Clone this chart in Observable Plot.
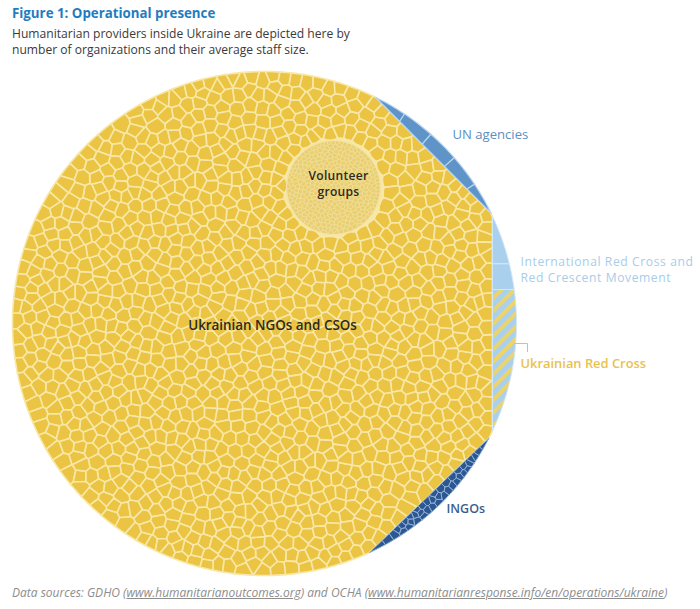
<!DOCTYPE html>
<html><head><meta charset="utf-8">
<script src="https://cdn.jsdelivr.net/npm/d3@7"></script>
<script src="https://cdn.jsdelivr.net/npm/@observablehq/plot@0.6"></script>
<style>
body{margin:0;background:#fff;font-family:"Open Sans",sans-serif;width:700px;height:609px;overflow:hidden}
#head{height:62px;padding-left:12px;box-sizing:border-box}
#head .t{font-weight:700;color:#1f7dbf;font-size:13.3px;line-height:18px;padding-top:4px}
#head .s{color:#3a3a3a;font-size:12.1px;line-height:15.5px;margin-top:4px}
#chart{height:520px}
#cap{font-style:italic;color:#8d8d8d;font-size:12px;line-height:14px;padding-left:12px;margin-top:4px;white-space:nowrap}
#cap u{text-decoration:underline}
</style></head>
<body>
<div id="head"><div class="t">Figure 1: Operational presence</div>
<div class="s">Humanitarian providers inside Ukraine are depicted here by<br>number of organizations and their average staff size.</div></div>
<div id="chart"></div>
<div id="cap">Data sources: GDHO (<u>www.humanitarianoutcomes.org</u>) and OCHA (<u>www.humanitarianresponse.info/en/operations/ukraine</u>)</div>
<script>
// ---- data ----
const categories = ["Ukrainian NGOs and CSOs","Volunteer groups","UN agencies","International Red Cross and Red Crescent Movement","Ukrainian Red Cross","INGOs"];
const organizations = [1250, 420, 5, 2, 1, 40];
const labelLines = [["Ukrainian NGOs and CSOs"],["Volunteer","groups"],["UN agencies"],["International Red Cross and","Red Crescent Movement"],["Ukrainian Red Cross"],["INGOs"]];

// ---- styles ----
const fillColor = ["#ecc443","#e9cf72","#5f94c8","#a9d1ee","url(#urcStripes)","#2c5791"];
const edgeColor = ["#f7e8a8","#f2e0a0","#b9d5ef","#d3e7f6","#d3e7f6","#8fb0d8"];
const labelColor = ["#2d2a1e","#2d2a1e","#5b8fc4","#a7cde8","#e8c24e","#3c5d8c"];
const labelWeight = [600, 600, 500, 500, 600, 600];
const labelSize = [13.4, 12.1, 13.1, 12.1, 12.9, 12.5];
const labelSpacing = [0, 0.25, 0, 0.6, 0, 0];

// ---- layout (page pixels) ----
const W = 700, TOP = 62, H = 520;
const cx = 264, cy = 323, R = 252;
const unAngles = [-63.8, -26], ingoAngles = [27, 65.4];
const xv = 492, ys = 289;
const vol = {x: 333, y: 187, r: 47};
const labelPos = [[272, 325, "middle"], [338, 183.5, "middle"], [452, 134, "start"], [520, 269.5, "start"], [520, 363, "start"], [446, 508, "start"]];
const lineGap = 16.6;

const rad = a => a * Math.PI / 180;
const onCircle = a => [cx + R * Math.cos(rad(a)), cy + R * Math.sin(rad(a))];
const circlePoly = d3.range(360).map(i => onCircle(i));

function clipHalf(poly, f) {
  const out = [];
  for (let i = 0; i < poly.length; i++) {
    const P = poly[i], Q = poly[(i + 1) % poly.length];
    const fp = f(P), fq = f(Q);
    if (fp >= 0) out.push(P);
    if ((fp >= 0) !== (fq >= 0)) { const t = fp / (fp - fq); out.push([P[0] + t * (Q[0] - P[0]), P[1] + t * (Q[1] - P[1])]); }
  }
  return out;
}
function lineSide(A, B, keepToward, same = true) {
  const s = Math.sign((B[0]-A[0])*(keepToward[1]-A[1]) - (B[1]-A[1])*(keepToward[0]-A[0])) * (same ? 1 : -1);
  return p => s * ((B[0]-A[0])*(p[1]-A[1]) - (B[1]-A[1])*(p[0]-A[0]));
}
function edgeFns(region) {
  const c = d3.polygonCentroid(region);
  return region.map((A, i) => lineSide(A, region[(i + 1) % region.length], c));
}
function clipConvex(poly, fns) {
  let out = poly;
  for (let i = 0; i < fns.length && out.length; i++) {
    const f = fns[i];
    let allIn = true;
    for (const p of out) if (f(p) < 0) { allIn = false; break; }
    if (!allIn) out = clipHalf(out, f);
  }
  return out;
}
const U1 = onCircle(unAngles[0]), U2 = onCircle(unAngles[1]);
const G1 = onCircle(ingoAngles[0]), G2 = onCircle(ingoAngles[1]);
const C = [cx, cy];
const inUN = lineSide(U1, U2, C, false), outUN = lineSide(U1, U2, C, true);
const inGO = lineSide(G1, G2, C, false), outGO = lineSide(G1, G2, C, true);
const yellowR = [outUN, outGO, p => xv - p[0]].reduce(clipHalf, circlePoly);
const unR = clipHalf(circlePoly, inUN);
const ingoR = clipHalf(circlePoly, inGO);
const rcR = [outUN, outGO, p => p[0] - xv].reduce(clipHalf, circlePoly);
const ircR = clipHalf(rcR, p => ys - p[1]);
const urcR = clipHalf(rcR, p => p[1] - ys);
const volR = d3.range(180).map(i => [vol.x + vol.r * Math.cos(i * Math.PI / 90), vol.y + vol.r * Math.sin(i * Math.PI / 90)]);

// deterministic low-discrepancy seeding + Lloyd relaxation (layout of cells)
function halton(i, b) { let f = 1, r = 0; while (i > 0) { f /= b; r += f * (i % b); i = Math.floor(i / b); } return r; }
function seed(region, n, offset, exclude) {
  const x0 = d3.min(region, d => d[0]), x1 = d3.max(region, d => d[0]), y0 = d3.min(region, d => d[1]), y1 = d3.max(region, d => d[1]);
  const pts = []; let i = offset;
  while (pts.length < n && i < offset + 200000) {
    const p = [x0 + (x1 - x0) * halton(i, 2), y0 + (y1 - y0) * halton(i, 3)];
    if (d3.polygonContains(region, p) && !(exclude && exclude(p))) pts.push(p);
    i++;
  }
  return pts;
}
function voronoiCells(region, pts, ghosts = []) {
  const fns = edgeFns(region);
  const all = pts.concat(ghosts);
  const b = [d3.min(region, d => d[0]) - 60, d3.min(region, d => d[1]) - 60, d3.max(region, d => d[0]) + 60, d3.max(region, d => d[1]) + 60];
  const vor = d3.Delaunay.from(all).voronoi(b);
  return pts.map((p, i) => { const poly = vor.cellPolygon(i); if (!poly) return null; poly.pop(); const c = clipConvex(poly, fns); return c.length > 2 ? c : null; });
}
function relaxed(region, pts, iters, ghosts = []) {
  for (let k = 0; k < iters; k++) {
    const cells = voronoiCells(region, pts, ghosts);
    pts = pts.map((p, i) => cells[i] ? d3.polygonCentroid(cells[i]) : p);
  }
  return voronoiCells(region, pts, ghosts).filter(c => c);
}

// NGO cells, around the volunteer circle
const volGhosts = d3.range(60).map(i => [vol.x + (vol.r - 5) * Math.cos(i * Math.PI / 30), vol.y + (vol.r - 5) * Math.sin(i * Math.PI / 30)]);
const ngoCells = relaxed(yellowR, seed(yellowR, organizations[0], 1, p => Math.hypot(p[0] - vol.x, p[1] - vol.y) < vol.r + 3), 4, volGhosts);
const volCells = relaxed(volR, seed(volR, organizations[1], 7, null), 3);
const unPts = d3.range(organizations[2]).map(i => { const a = unAngles[0] + (unAngles[1] - unAngles[0]) * (i + 0.5) / organizations[2]; return [cx + (R - 6) * Math.cos(rad(a)), cy + (R - 6) * Math.sin(rad(a))]; });
const unCells = voronoiCells(unR, unPts).filter(c => c);
const ingoCells = relaxed(ingoR, seed(ingoR, organizations[5], 3, null), 4);
const ircY = d3.extent(ircR, d => d[1]);
const ircPts = d3.range(organizations[3]).map(i => [xv + 10, ircY[0] + (ircY[1] - ircY[0]) * (i === 0 ? 0.4 : 0.9)]);
const ircCells = voronoiCells(ircR, ircPts).filter(c => c);
const urcCells = [urcR];

function rows(cells, k) {
  const out = [];
  cells.forEach((c, j) => { c.concat([c[0]]).forEach(p => out.push({id: k + "-" + j, x: p[0], y: p[1]})); });
  return out;
}
const cellMark = (cells, k, sw) => Plot.line(rows(cells, k), {x: "x", y: "y", z: "id", fill: fillColor[k], stroke: edgeColor[k], strokeWidth: sw, curve: "linear"});

const labels = [];
labelLines.forEach((lines, k) => lines.forEach((t, j) => labels.push({k, text: t, x: labelPos[k][0], y: labelPos[k][1] + (j - (lines.length - 1) / 2) * lineGap})));
const textMark = k => Plot.text(labels.filter(d => d.k === k), {x: "x", y: "y", text: "text", textAnchor: labelPos[k][2], fill: labelColor[k], fontSize: labelSize[k], fontWeight: labelWeight[k], fontFamily: "Open Sans"});

const chart = Plot.plot({
  width: W, height: H, margin: 0,
  x: {domain: [0, W], range: [0, W], axis: null},
  y: {domain: [TOP, TOP + H], range: [0, H], axis: null},
  style: {background: "transparent"},
  marks: [
    Plot.line(rows([yellowR], 0), {x: "x", y: "y", z: "id", fill: edgeColor[0], stroke: "none"}),
    cellMark(ngoCells, 0, 1.6),
    cellMark(unCells, 2, 1.2),
    cellMark(ingoCells, 5, 1),
    cellMark(ircCells, 3, 1),
    cellMark(urcCells, 4, 1),
    cellMark(volCells, 1, 0.6),
    Plot.line(rows([volR], 1), {x: "x", y: "y", z: "id", stroke: "#f4e3a4", strokeWidth: 1.3}),
    Plot.line([[514, 343], [527, 343], [527, 351]], {x: d => d[0], y: d => d[1], stroke: labelColor[4], strokeWidth: 1}),
    ...labelLines.map((t, k) => textMark(k))
  ]
});
// letter spacing for the wide label lettering
const spacingByText = new Map(labels.map(d => [d.text, labelSpacing[d.k]]));
d3.select(chart).selectAll("text").each(function() { const s = spacingByText.get(this.textContent); if (s) this.setAttribute("letter-spacing", s); });
const ns = "http://www.w3.org/2000/svg";
const defs = document.createElementNS(ns, "defs");
defs.innerHTML = '<pattern id="urcStripes" patternUnits="userSpaceOnUse" width="9" height="9" patternTransform="rotate(45)"><rect width="9" height="9" fill="#a9d1ee"/><rect width="4" height="9" fill="#ecd36c"/></pattern>';
chart.insertBefore(defs, chart.firstChild);
document.getElementById("chart").appendChild(chart);
</script>
</body></html>
